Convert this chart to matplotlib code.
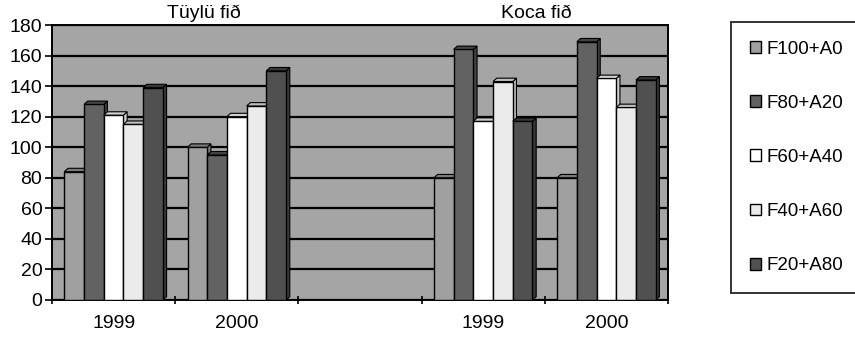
import matplotlib
matplotlib.use("Agg")
import matplotlib.pyplot as plt
from matplotlib.patches import Polygon
import numpy as np

plt.rcParams['font.family'] = ['Liberation Sans', 'DejaVu Sans']

categories = ["1999", "2000", "", "1999", "2000"]
group_titles = ["Tüylü fið", "Koca fið"]
series_names = ["F100+A0", "F80+A20", "F60+A40", "F40+A60", "F20+A80"]
f100_a0 = [84, 100, 0, 80, 80]
f80_a20 = [128, 95, 0, 164, 169]
f60_a40 = [121, 120, 0, 117, 145]
f40_a60 = [115, 127, 0, 143, 126]
f20_a80 = [139, 150, 0, 117, 144]
series = [f100_a0, f80_a20, f60_a40, f40_a60, f20_a80]
colors = ["#a0a0a0", "#626262", "#ffffff", "#ebebeb", "#505050"]
side_colors = ["#7a7a7a", "#444444", "#cfcfcf", "#bdbdbd", "#383838"]

fig = plt.figure(figsize=(8.55, 3.41), dpi=100)
ax = fig.add_axes([52/855, 41/341, 616/855, 275/341])
ax.set_facecolor("#a5a5a5")

n = len(categories)
x = np.arange(n)
w = 0.16
dx, dy = 0.03, 2.2
for k, (vals, c, sc) in enumerate(zip(series, colors, side_colors)):
    offs = (k - 2) * w
    bars = ax.bar(x + offs, vals, width=w, color=c, edgecolor="black", linewidth=1.0, zorder=3 + k)
    for b in bars:
        h = b.get_height()
        if h <= 0:
            continue
        x0, x1 = b.get_x(), b.get_x() + b.get_width()
        top = Polygon([[x0, h], [x0 + dx, h + dy], [x1 + dx, h + dy], [x1, h]], closed=True,
                      facecolor=sc, edgecolor="black", linewidth=0.8, zorder=3 + k)
        side = Polygon([[x1, 0], [x1, h], [x1 + dx, h + dy], [x1 + dx, dy]], closed=True,
                       facecolor=sc, edgecolor="black", linewidth=0.8, zorder=2.9 + k)
        ax.add_patch(top)
        ax.add_patch(side)

ax.set_xlim(-0.5, n - 0.5)
ax.set_ylim(0, 180)
ax.set_yticks(np.arange(0, 181, 20))
ax.yaxis.grid(True, color="black", linewidth=1.6, zorder=0)
ax.set_axisbelow(True)
ax.set_xticks(x)
ax.set_xticklabels(categories)
ax.set_xticks(np.arange(-0.5, n, 1.0), minor=True)
ax.tick_params(axis='x', which='major', length=0, pad=11, labelsize=14)
ax.tick_params(axis='x', which='minor', length=6, width=1.2, direction='inout')
ax.tick_params(axis='y', length=5, width=1.2, labelsize=14, pad=2)
for s in ax.spines.values():
    s.set_linewidth(1.4)

trans = matplotlib.transforms.blended_transform_factory(ax.transData, fig.transFigure)
ax.text(0.73, 1 - 13/341, group_titles[0], transform=trans, ha="center", va="center", fontsize=14)
ax.text(3.43, 1 - 13/341, group_titles[1], transform=trans, ha="center", va="center", fontsize=14)

handles = [plt.Rectangle((0, 0), 1, 1, facecolor=c, edgecolor="black", linewidth=1.0) for c in colors]
leg = fig.legend(handles, series_names, loc="upper left", bbox_to_anchor=(731/855, 1 - 22/341),
                 frameon=True, fontsize=13.5, labelspacing=1.98, handlelength=0.6, handleheight=0.6,
                 handletextpad=0.3, borderpad=1.0, borderaxespad=0, fancybox=False, edgecolor="black")
leg.get_frame().set_linewidth(1.4)

fig.savefig("out.png", dpi=100, facecolor="white")
